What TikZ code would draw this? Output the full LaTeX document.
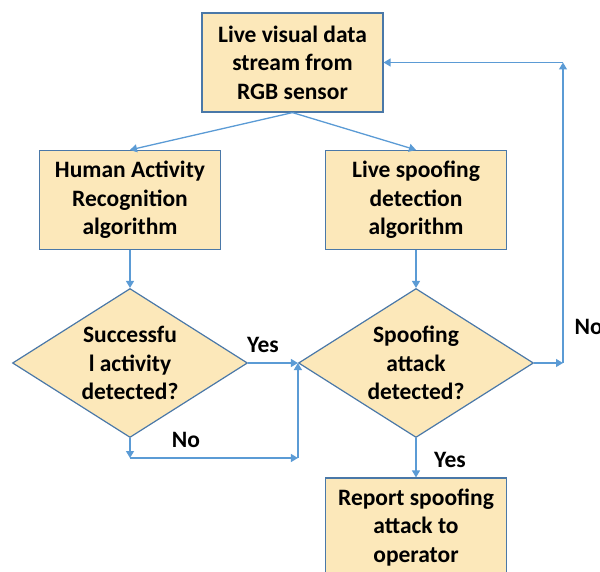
\documentclass[tikz,border=0pt]{standalone}
\usepackage{fontspec}
\setmainfont{Carlito}
\usetikzlibrary{shapes.geometric,arrows.meta}
\definecolor{boxfill}{HTML}{FCE8BA}
\definecolor{boxline}{HTML}{4A78A8}
\definecolor{flow}{HTML}{5B9BD5}
\tikzset{
  box/.style={draw=boxline, fill=boxfill, line width=1.2pt, minimum width=181pt,
    minimum height=99pt, inner sep=1pt, align=center,
    font=\fontsize{23.5}{28.5}\selectfont\bfseries},
  decision/.style={diamond, draw=boxline, fill=boxfill, line width=1.2pt,
    minimum width=235pt, minimum height=149pt, inner sep=-12pt, align=center,
    font=\fontsize{23.5}{28.5}\selectfont\bfseries},
  answer/.style={font=\fontsize{23.5}{26}\selectfont\bfseries},
  flow/.style={draw=flow, line width=1.3pt, -{Triangle[length=7pt,width=8pt]}}
}
\begin{document}
\begin{tikzpicture}[x=1pt,y=-1pt]
\useasboundingbox (0,0) rectangle (600,572);

\node[box] (src) at (292.5,62.5) {Live visual data\\stream from\\RGB sensor};
\node[box] (har) at (130,200) {Human Activity\\Recognition\\algorithm};
\node[box] (live) at (416,200) {Live spoofing\\detection\\algorithm};
\node[decision] (succ) at (130,363) {Successfu\\l activity\\detected?};
\node[decision] (att) at (416,363) {Spoofing\\attack\\detected?};
\node[box] (report) at (416,527.5) {Report spoofing\\attack to\\operator};

\coordinate (noL) at (130,458);
\coordinate (noR) at (att.west |- noL);
\coordinate (backA) at (563,363);
\coordinate (backB) at (563,62.5);

\draw[flow] (src.south) -- (har.north);
\draw[flow] (src.south) -- (live.north);
\draw[flow] (har.south) -- (succ.north);
\draw[flow] (live.south) -- (att.north);

\draw[flow] (succ.east) -- (att.west);
\node[answer] (yes1) at (263,345) {Yes};
\draw[flow] (succ.south) -- (noL);
\draw[flow] (noL) -- (noR);
\draw[flow] (noR) -- (att.west);
\node[answer] (no1) at (186,440) {No};

\draw[flow] (att.east) -- (backA);
\draw[flow] (backA) -- (backB);
\draw[flow] (backB) -- (src.east);
\node[answer, anchor=west] (no2) at (571,327) {No};

\draw[flow] (att.south) -- (report.north);
\node[answer] (yes2) at (450,460) {Yes};
\end{tikzpicture}
\end{document}
